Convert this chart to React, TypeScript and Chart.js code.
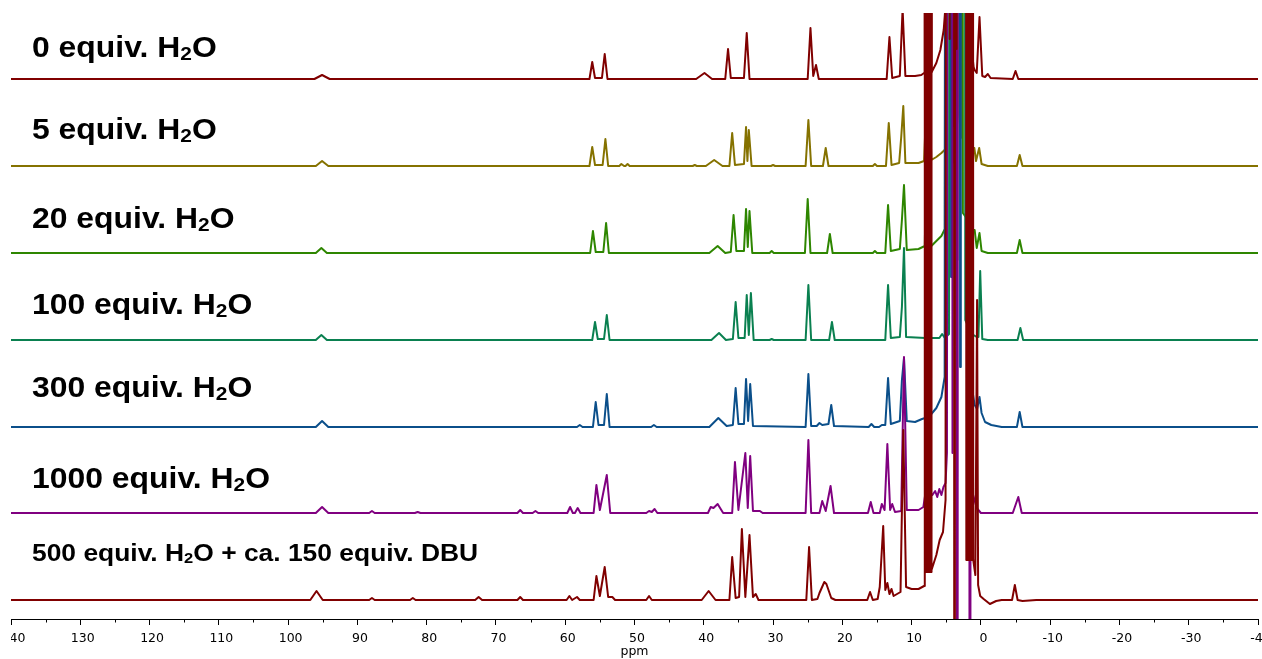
import React, { useEffect, useRef } from "react";
import { Chart, registerables } from "chart.js";

Chart.register(...registerables);

type Pt = [number, number];

// Each spectrum: [ppm, intensity] vertices, intensity measured from that trace's own baseline.
// Values of 2000 / -2000 are off-scale signals (solvent region) that run past the plot edges.

const SPEC_0: Pt[] = [
  [140, 0], [96.2, 0], [95.1, 4], [94.0, 0],
  [56.5, 0], [56.1, 17], [55.7, 1], [54.7, 1], [54.3, 25], [53.9, 0],
  [41.1, 0], [39.9, 6], [38.8, 0],
  [36.9, 0], [36.5, 30], [36.1, 1], [34.2, 1], [33.8, 46], [33.4, 0],
  [25.0, 0], [24.6, 51], [24.2, 3], [23.8, 14], [23.4, 0],
  [13.6, 0], [13.2, 42], [12.8, 1], [11.7, 3], [11.3, 70], [10.9, 3],
  [9.5, 3], [8.6, 4], [8.2, 6], [8.1, 2000], [7.25, 2000], [7.1, 7],
  [6.43, 16], [5.85, 29], [5.37, 49], [5.13, 70], [5.0, 2000],
  [4.6, 2000], [4.5, 40], [4.4, 2000], [3.6, 2000], [3.5, 30], [3.4, 2000],
  [1.3, 2000], [1.2, 22], [1.05, 12], [0.9, 9], [0.6, 6], [0.2, 62], [-0.2, 3],
  [-0.6, 2], [-1.0, 5], [-1.4, 1], [-4.6, 0], [-5.0, 8], [-5.4, 0], [-40, 0],
];

const SPEC_5: Pt[] = [
  [140, 0], [96.0, 0], [95.1, 5], [94.2, 0],
  [56.5, 0], [56.1, 19], [55.7, 1], [54.6, 1], [54.2, 27], [53.8, 0],
  [52.2, 0], [51.9, 2], [51.5, 0], [51.3, 0], [51.0, 2], [50.7, 0],
  [41.6, 0], [41.3, 1], [41.0, 0],
  [39.7, 0], [38.5, 6], [37.3, 0],
  [36.3, 0], [35.9, 33], [35.5, 1], [34.2, 2], [33.9, 39], [33.7, 5], [33.5, 36], [33.1, 0],
  [30.3, 0], [30.0, 1], [29.7, 0],
  [25.3, 0], [24.9, 46], [24.5, 0],
  [22.8, 0], [22.4, 18], [22.0, 0],
  [15.6, 0], [15.3, 2], [15.0, 0],
  [13.7, 0], [13.3, 43], [12.9, 1], [11.8, 3], [11.5, 29], [11.2, 60], [10.9, 3],
  [9.0, 3], [8.2, 5], [7.8, 75], [7.6, 6], [7.4, 70], [7.15, 6], [6.43, 9], [5.7, 13], [5.1, 17],
  [4.85, 2000], [4.15, 2000], [4.0, 40], [3.85, 2000], [3.25, 2000], [3.1, 51], [2.9, 28],
  [2.3, 2000], [2.1, 25], [1.3, 12], [0.95, 18], [0.7, 5], [0.25, 18], [-0.1, 2], [-1.0, 0],
  [-5.2, 0], [-5.6, 11], [-6.0, 0], [-40, 0],
];

const SPEC_20: Pt[] = [
  [140, 0], [96.0, 0], [95.2, 5], [94.4, 0],
  [56.4, 0], [56.0, 22], [55.6, 1], [54.5, 1], [54.1, 30], [53.7, 0],
  [39.2, 0], [38.0, 7], [36.9, 0],
  [36.1, 1], [35.7, 38], [35.3, 2], [34.2, 2], [33.9, 44], [33.65, 6], [33.4, 42], [33.0, 0],
  [30.5, 0], [30.2, 2], [29.9, 0],
  [25.4, 0], [25.0, 54], [24.6, 0],
  [22.2, 0], [21.8, 19], [21.4, 0],
  [15.6, 0], [15.3, 2], [15.0, 0],
  [13.8, 0], [13.4, 48], [13.0, 2], [11.7, 4], [11.4, 33], [11.1, 68], [10.7, 3],
  [9.0, 4], [8.1, 7], [7.75, 150], [7.5, 8], [7.15, 7], [6.43, 12], [5.7, 17], [5.2, 24],
  [5.0, 2000], [4.2, 2000], [4.1, 90], [4.0, 2000], [2.75, 2000], [2.6, 40], [1.6, 30],
  [1.2, 22], [0.9, 23], [0.6, 5], [0.2, 20], [-0.1, 2], [-1.0, 0],
  [-5.2, 0], [-5.6, 13], [-6.0, 0], [-40, 0],
];

const SPEC_100: Pt[] = [
  [140, 0], [96.0, 0], [95.2, 5], [94.4, 0],
  [56.1, 0], [55.7, 18], [55.3, 1], [54.4, 1], [54.0, 25], [53.6, 0],
  [38.9, 0], [37.8, 7], [36.8, 0],
  [35.8, 1], [35.4, 38], [35.0, 2], [34.1, 2], [33.8, 45], [33.5, 5], [33.2, 47], [32.8, 0],
  [30.5, 0], [30.2, 1], [29.9, 0],
  [25.3, 0], [24.9, 55], [24.5, 0],
  [21.9, 0], [21.5, 18], [21.1, 0],
  [13.8, 0], [13.4, 55], [13.0, 2], [11.7, 3], [11.4, 33], [11.1, 92], [10.8, 3],
  [8.0, 2], [6.0, 2], [5.6, 6], [5.2, 2], [4.6, 6], [4.4, 2000], [3.5, 2000], [3.4, 80],
  [3.3, 2000], [2.45, 2000], [2.25, 20], [1.3, 6], [0.6, 3], [0.35, 3], [0.1, 69], [-0.2, 1],
  [-1.0, 0], [-5.3, 0], [-5.7, 12], [-6.1, 0], [-40, 0],
];

const SPEC_300: Pt[] = [
  [140, 0], [96.0, 0], [95.1, 6], [94.2, 0],
  [58.3, 0], [57.9, 2], [57.5, 0],
  [56.0, 0], [55.6, 25], [55.2, 2], [54.4, 2], [54.0, 33], [53.6, 0],
  [47.6, 0], [47.2, 2], [46.8, 0],
  [39.2, 0], [37.9, 9], [36.7, 1],
  [35.8, 2], [35.4, 39], [35.0, 3], [34.2, 3], [33.9, 48], [33.6, 6], [33.3, 43], [32.9, 1],
  [25.3, 0], [24.9, 53], [24.5, 1], [23.7, 1], [23.3, 4], [22.9, 2], [22.0, 3], [21.6, 22], [21.2, 1],
  [16.2, 0], [15.8, 3], [15.4, 0],
  [14.7, 0], [14.3, 2], [13.8, 2], [13.4, 49], [13.0, 3], [11.7, 6], [11.4, 47], [11.1, 69], [10.7, 6],
  [9.5, 5], [8.5, 8], [7.6, 10], [7.15, 13], [6.43, 19], [5.7, 30], [5.23, 50],
  [5.02, 2000], [4.4, 2000], [4.3, 150], [4.2, 2000], [3.1, 2000], [3.0, 60], [2.9, 2000],
  [1.45, 2000], [1.2, 35], [0.9, 22], [0.55, 18], [0.2, 30], [-0.1, 14], [-0.6, 5], [-1.5, 2],
  [-3.0, 0], [-5.2, 0], [-5.6, 15], [-6.0, 0], [-40, 0],
];

const SPEC_1000: Pt[] = [
  [140, 0], [96.0, 0], [95.1, 6], [94.2, 0],
  [88.3, 0], [87.9, 2], [87.5, 0],
  [81.7, 0], [81.3, 1], [80.9, 0],
  [66.9, 0], [66.5, 3], [66.1, 0], [64.7, 0], [64.3, 2], [63.9, 0],
  [59.7, 0], [59.3, 6], [58.9, 0], [58.6, 0], [58.2, 5], [57.8, 0],
  [55.9, 0], [55.5, 28], [55.0, 3], [54.0, 38], [53.5, 0],
  [48.3, 0], [47.9, 2], [47.5, 1], [47.1, 4], [46.7, 0],
  [39.4, 0], [39.0, 6], [38.6, 5], [38.0, 9], [37.2, 0],
  [35.9, 0], [35.5, 51], [35.0, 3], [34.0, 60], [33.65, 5], [33.3, 57], [32.9, 2], [31.9, 2], [31.5, 0],
  [25.3, 0], [24.9, 73], [24.5, 0],
  [23.3, 0], [22.9, 12], [22.4, 2], [21.7, 27], [21.2, 0],
  [16.3, 0], [15.9, 11], [15.5, 0],
  [14.6, 0], [14.3, 9], [13.9, 3], [13.5, 69], [13.1, 3], [12.8, 9], [12.4, 1],
  [11.5, 2], [11.1, 156], [10.7, 3], [9.0, 3], [8.3, 6], [8.0, 20], [7.3, 20],
  [7.0, 18], [6.6, 22], [6.3, 16], [6.0, 24], [5.7, 18], [5.4, 26], [5.1, 30], [4.9, 60],
  [4.7, 2000], [4.2, 2000], [4.1, 60], [3.9, 2000], [3.5, 2000], [3.4, -2000], [3.3, 2000],
  [1.7, 2000], [1.6, -2000], [1.5, 40], [1.2, 20], [0.6, 5], [0, 0],
  [-4.6, 0], [-5.4, 16], [-5.9, 0], [-40, 0],
];

const SPEC_DBU: Pt[] = [
  [140, 0], [96.8, 0], [95.9, 9], [95.0, 0],
  [88.3, 0], [87.9, 2], [87.5, 0],
  [82.4, 0], [82.0, 2], [81.6, 0],
  [73.0, 0], [72.5, 3], [72.0, 0],
  [66.9, 0], [66.5, 3], [66.1, 0],
  [59.8, 0], [59.4, 4], [59.0, 0], [58.3, 3], [57.9, 0],
  [55.9, 0], [55.5, 24], [55.0, 4], [54.3, 33], [53.8, 3], [53.2, 3], [52.8, 0],
  [48.3, 0], [47.9, 4], [47.5, 0],
  [40.3, 0], [39.3, 9], [38.3, 0],
  [36.3, 0], [35.9, 43], [35.4, 2], [34.9, 3], [34.5, 71], [34.0, 3], [33.4, 65], [32.9, 3], [32.5, 6], [32.1, 0],
  [25.2, 0], [24.8, 53], [24.4, 0],
  [23.6, 1], [23.3, 7], [22.6, 18], [22.3, 16], [21.6, 2], [21.0, 0],
  [16.4, 0], [16.0, 8], [15.6, 0],
  [14.9, 1], [14.6, 13], [14.1, 74], [13.8, 10], [13.5, 17], [13.2, 6], [12.9, 11], [12.6, 4],
  [11.6, 8], [11.2, 170], [10.8, 13], [10.0, 11], [9.0, 11], [8.2, 14],
  [8.1, 2000], [8.0, 28], [7.9, 2000], [7.8, 28], [7.7, 2000], [7.6, 28], [7.5, 2000],
  [7.4, 28], [7.3, 2000], [7.2, 28], [7.15, 2000], [7.1, 30],
  [6.43, 45], [5.95, 60], [5.47, 68], [5.1, 100], [4.98, 2000],
  [3.9, 2000], [3.8, -2000], [3.7, 2000],
  [2.2, 2000], [2.1, 40], [2.0, 2000], [1.9, 40], [1.8, 2000], [1.7, 40], [1.6, 2000],
  [1.5, 40], [1.4, 2000], [1.3, 40], [1.2, 2000], [1.1, 40],
  [0.8, 25], [0.55, 300], [0.4, 15], [0.1, 4], [-0.4, 1], [-1.3, -4], [-2.2, -1], [-3.0, 0],
  [-4.5, 0], [-4.9, 15], [-5.3, 0], [-6.0, -1], [-8.0, 0], [-40, 0],
];

const SPECTRA: Pt[][] = [SPEC_0, SPEC_5, SPEC_20, SPEC_100, SPEC_300, SPEC_1000, SPEC_DBU];
const LABELS = [
  "0 equiv. H₂O",
  "5 equiv. H₂O",
  "20 equiv. H₂O",
  "100 equiv. H₂O",
  "300 equiv. H₂O",
  "1000 equiv. H₂O",
  "500 equiv. H₂O + ca. 150 equiv. DBU",
];
const COLORS = ["#800000", "#857200", "#2e8600", "#0a8050", "#0b4f8a", "#800080", "#800000"];
// stacking offset of each trace's baseline, in plot units
const OFFSETS = [521, 434, 347, 260, 173, 87, 0];
// drawing order: lower number is painted later (on top)
const DRAW_ORDER = [1, 6, 5, 4, 3, 2, 0];

const X_TICKS = [140, 130, 120, 110, 100, 90, 80, 70, 60, 50, 40, 30, 20, 10, 0, -10, -20, -30, -40];
const X_MIN = -40;
const X_MAX = 140;

// label layout (baseline, px from top of canvas; font size)
const LABEL_BASELINE = [57, 139, 228, 314, 397, 488, 561];
const LABEL_SIZE = [29, 29, 29, 29, 29, 29, 24];

const labelPlugin = {
  id: "traceLabels",
  afterDraw(chart: any) {
    const ctx: CanvasRenderingContext2D = chart.ctx;
    const left = chart.chartArea.left + 21;
    LABELS.forEach((text, i) => {
      const size = LABEL_SIZE[i];
      ctx.save();
      ctx.translate(left, LABEL_BASELINE[i]);
      ctx.scale(1.1, 1);
      ctx.fillStyle = "#000";
      ctx.textAlign = "left";
      ctx.textBaseline = "alphabetic";
      const parts = text.split("₂");
      let x = 0;
      parts.forEach((part, j) => {
        ctx.font = `bold ${size}px "Liberation Sans", Arial, sans-serif`;
        ctx.fillText(part, x, 0);
        x += ctx.measureText(part).width;
        if (j < parts.length - 1) {
          ctx.font = `bold ${Math.round(size * 0.64)}px "Liberation Sans", Arial, sans-serif`;
          ctx.fillText("2", x, size * 0.1);
          x += ctx.measureText("2").width;
        }
      });
      ctx.restore();
    });
  },
};

const minorTickPlugin = {
  id: "minorTicks",
  afterDraw(chart: any) {
    const scale = chart.scales.x;
    const ctx: CanvasRenderingContext2D = chart.ctx;
    const y0 = chart.chartArea.bottom;
    ctx.save();
    ctx.strokeStyle = "#000";
    ctx.lineWidth = 1;
    for (let v = X_MIN + 5; v < X_MAX; v += 10) {
      const x = Math.round(scale.getPixelForValue(v)) + 0.5;
      ctx.beginPath();
      ctx.moveTo(x, y0);
      ctx.lineTo(x, y0 + 3.5);
      ctx.stroke();
    }
    ctx.restore();
  },
};

export default function App() {
  const canvasRef = useRef<HTMLCanvasElement>(null);

  useEffect(() => {
    const canvas = canvasRef.current;
    if (!canvas) return;
    const datasets = SPECTRA.map((spec, i) => ({
      label: LABELS[i],
      data: spec.map(([ppm, v]) => ({ x: ppm, y: v + OFFSETS[i] })),
      borderColor: COLORS[i],
      backgroundColor: COLORS[i],
      borderWidth: 2,
      pointRadius: 0,
      tension: 0,
      fill: false,
      order: DRAW_ORDER[i],
      borderJoinStyle: "round" as const,
      borderCapStyle: "round" as const,
    }));

    const chart = new Chart(canvas, {
      type: "line",
      data: { datasets },
      options: {
        animation: false,
        responsive: false,
        events: [],
        layout: { padding: { left: 51, right: 44, top: 13, bottom: 0 } },
        plugins: { legend: { display: false }, tooltip: { enabled: false } },
        scales: {
          x: {
            type: "linear",
            reverse: true,
            min: X_MIN,
            max: X_MAX,
            afterBuildTicks: (s: any) => {
              s.ticks = X_TICKS.map((v) => ({ value: v }));
            },
            afterFit: (s: any) => {
              s.height = 40;
            },
            grid: {
              drawOnChartArea: false,
              drawTicks: true,
              tickLength: 6,
              color: "#000",
              lineWidth: 1,
            },
            border: { display: true, color: "#000", width: 1 },
            ticks: {
              autoSkip: false,
              maxRotation: 0,
              padding: 6.5,
              labelOffset: 2.5,
              color: "#000",
              font: { family: "'DejaVu Sans', Verdana, sans-serif", size: 12.5 },
              callback: (v: any) => String(v),
            },
            title: {
              display: true,
              text: "ppm",
              color: "#000",
              font: { family: "'DejaVu Sans', Verdana, sans-serif", size: 12.5 },
              padding: { top: 0, bottom: 0 },
            },
          },
          y: { display: false, min: -19, max: 587 },
        },
      },
      plugins: [labelPlugin, minorTickPlugin],
    });
    return () => chart.destroy();
  }, []);

  return (
    <div
      style={{
        position: "fixed",
        left: 0,
        top: 0,
        width: 1262,
        height: 659,
        overflow: "hidden",
        background: "#fff",
      }}
    >
      <div
        style={{
          position: "absolute",
          left: 11,
          top: 0,
          width: 1251,
          height: 659,
          overflow: "hidden",
        }}
      >
        <canvas
          ref={canvasRef}
          width={1342}
          height={659}
          style={{ position: "absolute", left: -51, top: 0, width: 1342, height: 659 }}
        />
      </div>
    </div>
  );
}
